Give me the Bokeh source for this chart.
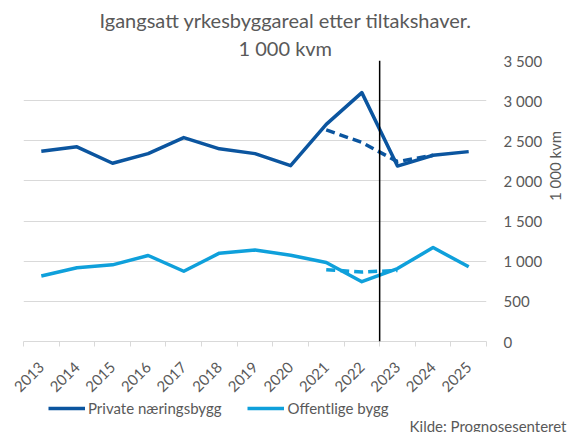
import math
from bokeh.plotting import figure
from bokeh.layouts import column
from bokeh.models import (Range1d, FixedTicker, Span, Title, Legend, LegendItem)
from bokeh.embed import file_html
from bokeh.resources import INLINE

years = [2013, 2014, 2015, 2016, 2017, 2018, 2019, 2020, 2021, 2022, 2023, 2024, 2025]
private = [2370, 2425, 2220, 2340, 2540, 2400, 2340, 2190, 2705, 3100, 2185, 2320, 2365]
public = [815, 918, 955, 1071, 875, 1100, 1140, 1075, 985, 745, 909, 1170, 930]

alt_years_private = [2021, 2022, 2023, 2024]
alt_private = [2635, 2480, 2240, 2320]
alt_years_public = [2021, 2022, 2023]
alt_public = [895, 865, 885]

y_ticks = [0, 500, 1000, 1500, 2000, 2500, 3000, 3500]
y_tick_labels = ["0", "500", "1 000", "1 500", "2 000", "2 500", "3 000", "3 500"]
last_actual_year = 2022

title_1 = "Igangsatt yrkesbyggareal etter tiltakshaver."
title_2 = "1 000 kvm"
y_title = "1 000 kvm"
source_text = "Kilde: Prognosesenteret"
name_private = "Private næringsbygg"
name_public = "Offentlige bygg"

FONT = "Lato"
GREY = "#595959"
GRID = "#d9d9d9"
C_PRIV = "#0B559F"
C_PUB = "#0FA0DB"

fig = figure(width=576, height=399, output_backend="svg", toolbar_location=None,
             title=title_1,
             x_range=Range1d(years[0] - 0.5, years[-1] + 0.5),
             y_range=Range1d(y_ticks[0], y_ticks[-1]),
             x_axis_location="below", y_axis_location="right",
             min_border_left=23, min_border_right=84, min_border_top=60,
             min_border_bottom=58)
fig.title.align = "left"
fig.title.offset = 76
fig.title.text_font = FONT
fig.title.text_font_size = "20px"
fig.title.text_font_style = "normal"
fig.title.text_color = GREY
fig.title.standoff = 2
fig.outline_line_color = None
fig.background_fill_color = "white"
fig.border_fill_color = "white"

# axes
fig.xaxis.ticker = FixedTicker(ticks=years, minor_ticks=[y - 0.5 for y in years] + [years[-1] + 0.5])
fig.xaxis.axis_line_color = GRID
fig.xaxis.major_tick_line_color = None
fig.xaxis.major_tick_out = 0
fig.xaxis.major_tick_in = 0
fig.xaxis.minor_tick_line_color = GRID
fig.xaxis.minor_tick_in = 0
fig.xaxis.minor_tick_out = 5
fig.xaxis.major_label_orientation = math.pi / 4
fig.xaxis.major_label_text_font = FONT
fig.xaxis.major_label_text_font_size = "15px"
fig.xaxis.major_label_text_color = GREY
fig.xaxis.major_label_standoff = 18
fig.xgrid.visible = False

fig.yaxis.ticker = FixedTicker(ticks=y_ticks)
fig.yaxis.major_label_overrides = {v: s for v, s in zip(y_ticks, y_tick_labels)}
fig.yaxis.axis_line_color = None
fig.yaxis.major_tick_line_color = None
fig.yaxis.major_tick_out = 0
fig.yaxis.major_tick_in = 0
fig.yaxis.minor_tick_line_color = None
fig.yaxis.major_label_text_font = FONT
fig.yaxis.major_label_text_font_size = "15px"
fig.yaxis.major_label_text_color = GREY
fig.yaxis.major_label_standoff = 17
fig.yaxis.axis_label = y_title
fig.yaxis.axis_label_text_font = FONT
fig.yaxis.axis_label_text_font_size = "15px"
fig.yaxis.axis_label_text_font_style = "normal"
fig.yaxis.axis_label_text_color = GREY
fig.yaxis.axis_label_standoff = 10
try:
    fig.yaxis.axis_label_orientation = math.pi / 2
except Exception:
    pass
fig.ygrid.grid_line_color = GRID
fig.ygrid.grid_line_width = 1

# lines
fig.line(years, private, line_color=C_PRIV, line_width=3.5, line_join="round")
fig.line(years, public, line_color=C_PUB, line_width=3.5, line_join="round")
fig.line(alt_years_private, alt_private, line_color=C_PRIV, line_width=3.5, line_dash="9 5")
fig.line(alt_years_public, alt_public, line_color=C_PUB, line_width=3.5, line_dash="9 5")

fig.add_layout(Span(location=last_actual_year + 0.5, dimension="height",
                    line_color="black", line_width=1.5))

# second title line, nearer to the frame
fig.add_layout(Title(text=title_2, align="left", offset=215, text_font=FONT,
                     text_font_size="20px", text_font_style="normal", text_color=GREY,
                     standoff=2), "above")

# bottom strip: legend and source
foot = figure(width=576, height=33, output_backend="svg", toolbar_location=None,
              x_axis_location=None, y_axis_location=None,
              x_range=Range1d(0, 1), y_range=Range1d(0, 1),
              min_border_left=0, min_border_right=0, min_border_top=0, min_border_bottom=0)
foot.outline_line_color = None
foot.background_fill_color = "white"
foot.border_fill_color = "white"
foot.xgrid.visible = False
foot.ygrid.visible = False
# legend keys (same series, lying outside this strip's visible range)
k_priv = foot.line(years, private, line_color=C_PRIV, line_width=3.5)
k_pub = foot.line(years, public, line_color=C_PUB, line_width=3.5)

legend = Legend(items=[LegendItem(label=name_private, renderers=[k_priv]),
                       LegendItem(label=name_public, renderers=[k_pub])],
                location=(25, 1), orientation="horizontal",
                glyph_width=37, glyph_height=16, label_height=16, label_standoff=3,
                spacing=26, padding=0, margin=0, border_line_color=None,
                background_fill_alpha=0,
                label_text_font=FONT, label_text_font_size="15px", label_text_color=GREY)
foot.add_layout(legend, "center")

foot.add_layout(Title(text=source_text, align="right", offset=-80, vertical_align="middle",
                      text_font=FONT, text_font_size="15px", text_font_style="normal",
                      text_color=GREY, standoff=-6), "below")

page = column(fig, foot, spacing=0)
open("out.html", "w").write(file_html(page, INLINE))
